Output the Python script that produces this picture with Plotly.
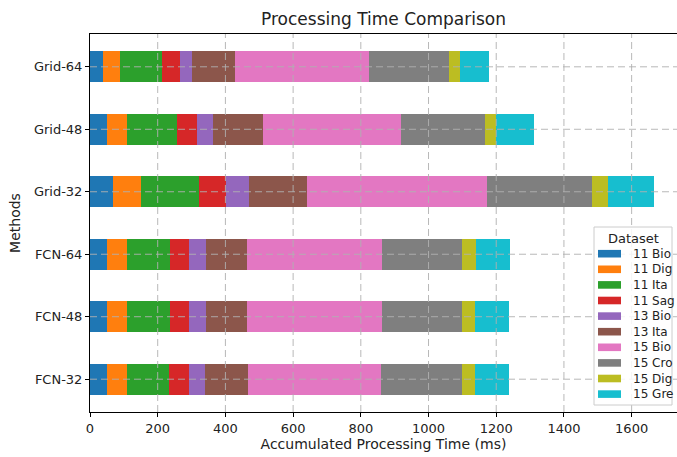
import plotly.graph_objects as go

methods = ["FCN-32", "FCN-48", "FCN-64", "Grid-32", "Grid-48", "Grid-64"]
datasets = ["11 Bio", "11 Dig", "11 Ita", "11 Sag", "13 Bio", "13 Ita",
            "15 Bio", "15 Cro", "15 Dig", "15 Gre"]
# values per dataset, ordered as methods list
values = {
    "11 Bio": [50, 50, 50, 67, 50, 37],
    "11 Dig": [59, 59, 59, 85, 59, 51],
    "11 Ita": [123, 127, 127, 170, 147, 125],
    "11 Sag": [60, 56, 56, 79, 60, 52],
    "13 Bio": [47, 50, 50, 70, 47, 35],
    "13 Ita": [128, 123, 123, 170, 147, 127],
    "15 Bio": [394, 397, 397, 532, 409, 397],
    "15 Cro": [238, 238, 238, 310, 248, 236],
    "15 Dig": [39, 36, 39, 47, 32, 32],
    "15 Gre": [101, 101, 101, 137, 114, 86],
}
colors = ["#1f77b4", "#ff7f0e", "#2ca02c", "#d62728", "#9467bd",
          "#8c564b", "#e377c2", "#7f7f7f", "#bcbd22", "#17becf"]
x_ticks = [0, 200, 400, 600, 800, 1000, 1200, 1400, 1600]

W, H = 677, 457
ML, MR, MT, MB = 90, 0, 34, 45
PW, PH = W - ML - MR, H - MT - MB


def px_x(px):
    return (px - ML) / PW


def px_y(py):
    return (H - MB - py) / PH


fig = go.Figure()
for ds, c in zip(datasets, colors):
    fig.add_trace(go.Bar(
        y=methods, x=values[ds], name=ds, orientation="h",
        marker=dict(color=c, line=dict(width=0)),
        width=0.5, showlegend=False,
    ))

grid_style = dict(color="rgba(176,176,176,0.9)", width=1, dash="7px,4px")
shapes = []
annotations = []
for t in x_ticks[1:]:
    shapes.append(dict(type="line", xref="x", yref="paper", x0=t, x1=t,
                       y0=0, y1=1, line=grid_style, layer="above"))
for m in methods:
    shapes.append(dict(type="line", xref="paper", yref="y", x0=0, x1=1,
                       y0=m, y1=m, line=grid_style, layer="above"))

# custom legend (compact spacing like the reference)
shapes.append(dict(type="rect", xref="paper", yref="paper",
                   x0=px_x(594), x1=px_x(672), y0=px_y(405), y1=px_y(227),
                   fillcolor="rgba(255,255,255,0.85)",
                   line=dict(color="#cccccc", width=1), layer="above"))
annotations.append(dict(text="Dataset", xref="paper", yref="paper",
                        x=px_x(633), y=px_y(238), xanchor="center",
                        yanchor="middle", showarrow=False,
                        font=dict(size=13, color="#222222")))
pitch = 15.6
for i, (ds, c) in enumerate(zip(datasets, colors)):
    cy = 253.7 + i * pitch
    shapes.append(dict(type="rect", xref="paper", yref="paper",
                       x0=px_x(598), x1=px_x(621),
                       y0=px_y(cy + 3.8), y1=px_y(cy - 3.8),
                       fillcolor=c, line=dict(width=0), layer="above"))
    annotations.append(dict(text=ds, xref="paper", yref="paper",
                            x=px_x(631), y=px_y(cy), xanchor="left",
                            yanchor="middle", showarrow=False,
                            font=dict(size=12, color="#222222")))

fig.update_layout(
    barmode="stack",
    width=W, height=H,
    margin=dict(l=ML, r=MR, t=MT, b=MB),
    plot_bgcolor="white", paper_bgcolor="white",
    font=dict(family="DejaVu Sans", size=12, color="#222222"),
    title=dict(text="Processing Time Comparison", x=0.5, xanchor="center",
               xref="paper", y=1 - 19 / H, yanchor="middle", yref="container",
               font=dict(size=17)),
    shapes=shapes,
    annotations=annotations,
    showlegend=False,
    bargap=0.5,
)
fig.update_xaxes(
    range=[0, 1734], tickvals=x_ticks, showgrid=False,
    showline=True, linecolor="black", linewidth=1, mirror=True,
    ticks="outside", ticklen=4, tickcolor="black", zeroline=False,
    title=dict(text="Accumulated Processing Time (ms)", standoff=4,
               font=dict(size=14)),
    tickfont=dict(size=13),
)
fig.update_yaxes(
    type="category", categoryorder="array", categoryarray=methods,
    range=[-0.525, 5.525], showgrid=False,
    showline=True, linecolor="black", linewidth=1,
    ticks="outside", ticklen=4, tickcolor="black",
    title=dict(text="Methods", standoff=9, font=dict(size=14)),
    tickfont=dict(size=13),
)
fig.write_html("out.html")
